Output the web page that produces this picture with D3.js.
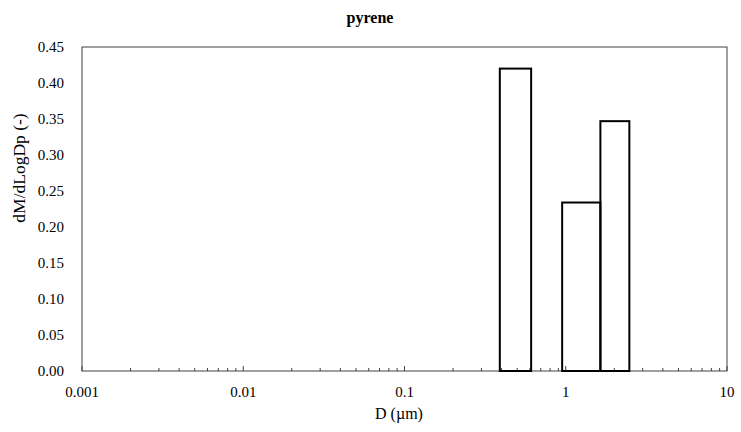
<!DOCTYPE html>
<html>
<head>
<meta charset="utf-8">
<script src="https://cdn.jsdelivr.net/npm/d3@7"></script>
<style>
  html, body { margin: 0; padding: 0; background: #fff; }
  svg { display: block; }
</style>
</head>
<body>
<svg id="chart" width="741" height="432"></svg>
<script>
// Size-bin edges (µm) and dM/dLogDp values for each bin
const binLower = [0.006, 0.39, 0.61, 0.95, 1.64, 2.48];
const binUpper = [0.39, 0.61, 0.95, 1.64, 2.48, 10];
const binValues = [0, 0.42, 0, 0.234, 0.347, 0];
const xTickValues = [0.001, 0.01, 0.1, 1, 10];
const xTickLabels = ["0.001", "0.01", "0.1", "1", "10"];
const yTickValues = [0, 0.05, 0.10, 0.15, 0.20, 0.25, 0.30, 0.35, 0.40, 0.45];
const titleText = "pyrene";
const xTitle = "D (\u00b5m)";
const yTitle = "dM/dLogDp (-)";

const FONT = "'Liberation Serif', 'Times New Roman', Tinos, 'DejaVu Serif', 'Noto Serif', serif";
const svg = d3.select("#chart").attr("font-family", FONT);
const margin = {left: 82, right: 14, top: 47, bottom: 61};
const W = 741, H = 432;
const x = d3.scaleLog().domain([0.001, 10]).range([margin.left, W - margin.right]);
const y = d3.scaleLinear().domain([0, 0.45]).range([H - margin.bottom, margin.top]);

const bins = binLower.map((lo, i) => ({lo, hi: binUpper[i], v: binValues[i]}));

// plot frame
svg.append("rect")
  .attr("x", x(0.001)).attr("y", y(0.45))
  .attr("width", x(10) - x(0.001)).attr("height", y(0) - y(0.45))
  .attr("fill", "none").attr("stroke", "#404040").attr("stroke-width", 1);

// minor ticks (inside, upward)
const minor = [];
for (let e = -3; e < 1; e++) {
  for (let k = 2; k <= 9; k++) minor.push(k * Math.pow(10, e));
}
svg.append("g").selectAll("line").data(minor).join("line")
  .attr("x1", d => x(d)).attr("x2", d => x(d))
  .attr("y1", y(0)).attr("y2", y(0) - 3)
  .attr("stroke", "#404040").attr("stroke-width", 1);
svg.append("g").selectAll("line").data(xTickValues).join("line")
  .attr("x1", d => x(d)).attr("x2", d => x(d))
  .attr("y1", y(0)).attr("y2", y(0) - 5)
  .attr("stroke", "#404040").attr("stroke-width", 1);

// bars
svg.append("g").selectAll("rect").data(bins).join("rect")
  .attr("x", d => x(d.lo))
  .attr("y", d => y(d.v))
  .attr("width", d => x(d.hi) - x(d.lo))
  .attr("height", d => y(0) - y(d.v))
  .attr("fill", "none")
  .attr("stroke", "#000")
  .attr("stroke-width", 2);

// x tick labels
svg.append("g").selectAll("text").data(xTickValues).join("text")
  .attr("x", d => x(d)).attr("y", y(0) + 26)
  .attr("text-anchor", "middle")
  .attr("font-size", 15)
  .text((d, i) => xTickLabels[i]);

// y tick labels
svg.append("g").selectAll("text").data(yTickValues).join("text")
  .attr("x", x(0.001) - 18).attr("y", d => y(d) + 5)
  .attr("text-anchor", "end")
  .attr("font-size", 15)
  .text(d => d3.format(".2f")(d));

// titles
svg.append("text").attr("x", 370).attr("y", 23)
  .attr("text-anchor", "middle").attr("font-size", 16).attr("font-weight", "bold")
  .text(titleText);
svg.append("text").attr("x", 399).attr("y", 419)
  .attr("text-anchor", "middle").attr("font-size", 16)
  .text(xTitle);
svg.append("text")
  .attr("transform", "translate(25,168) rotate(-90)")
  .attr("text-anchor", "middle").attr("font-size", 17.5)
  .text(yTitle);
</script>
</body>
</html>
